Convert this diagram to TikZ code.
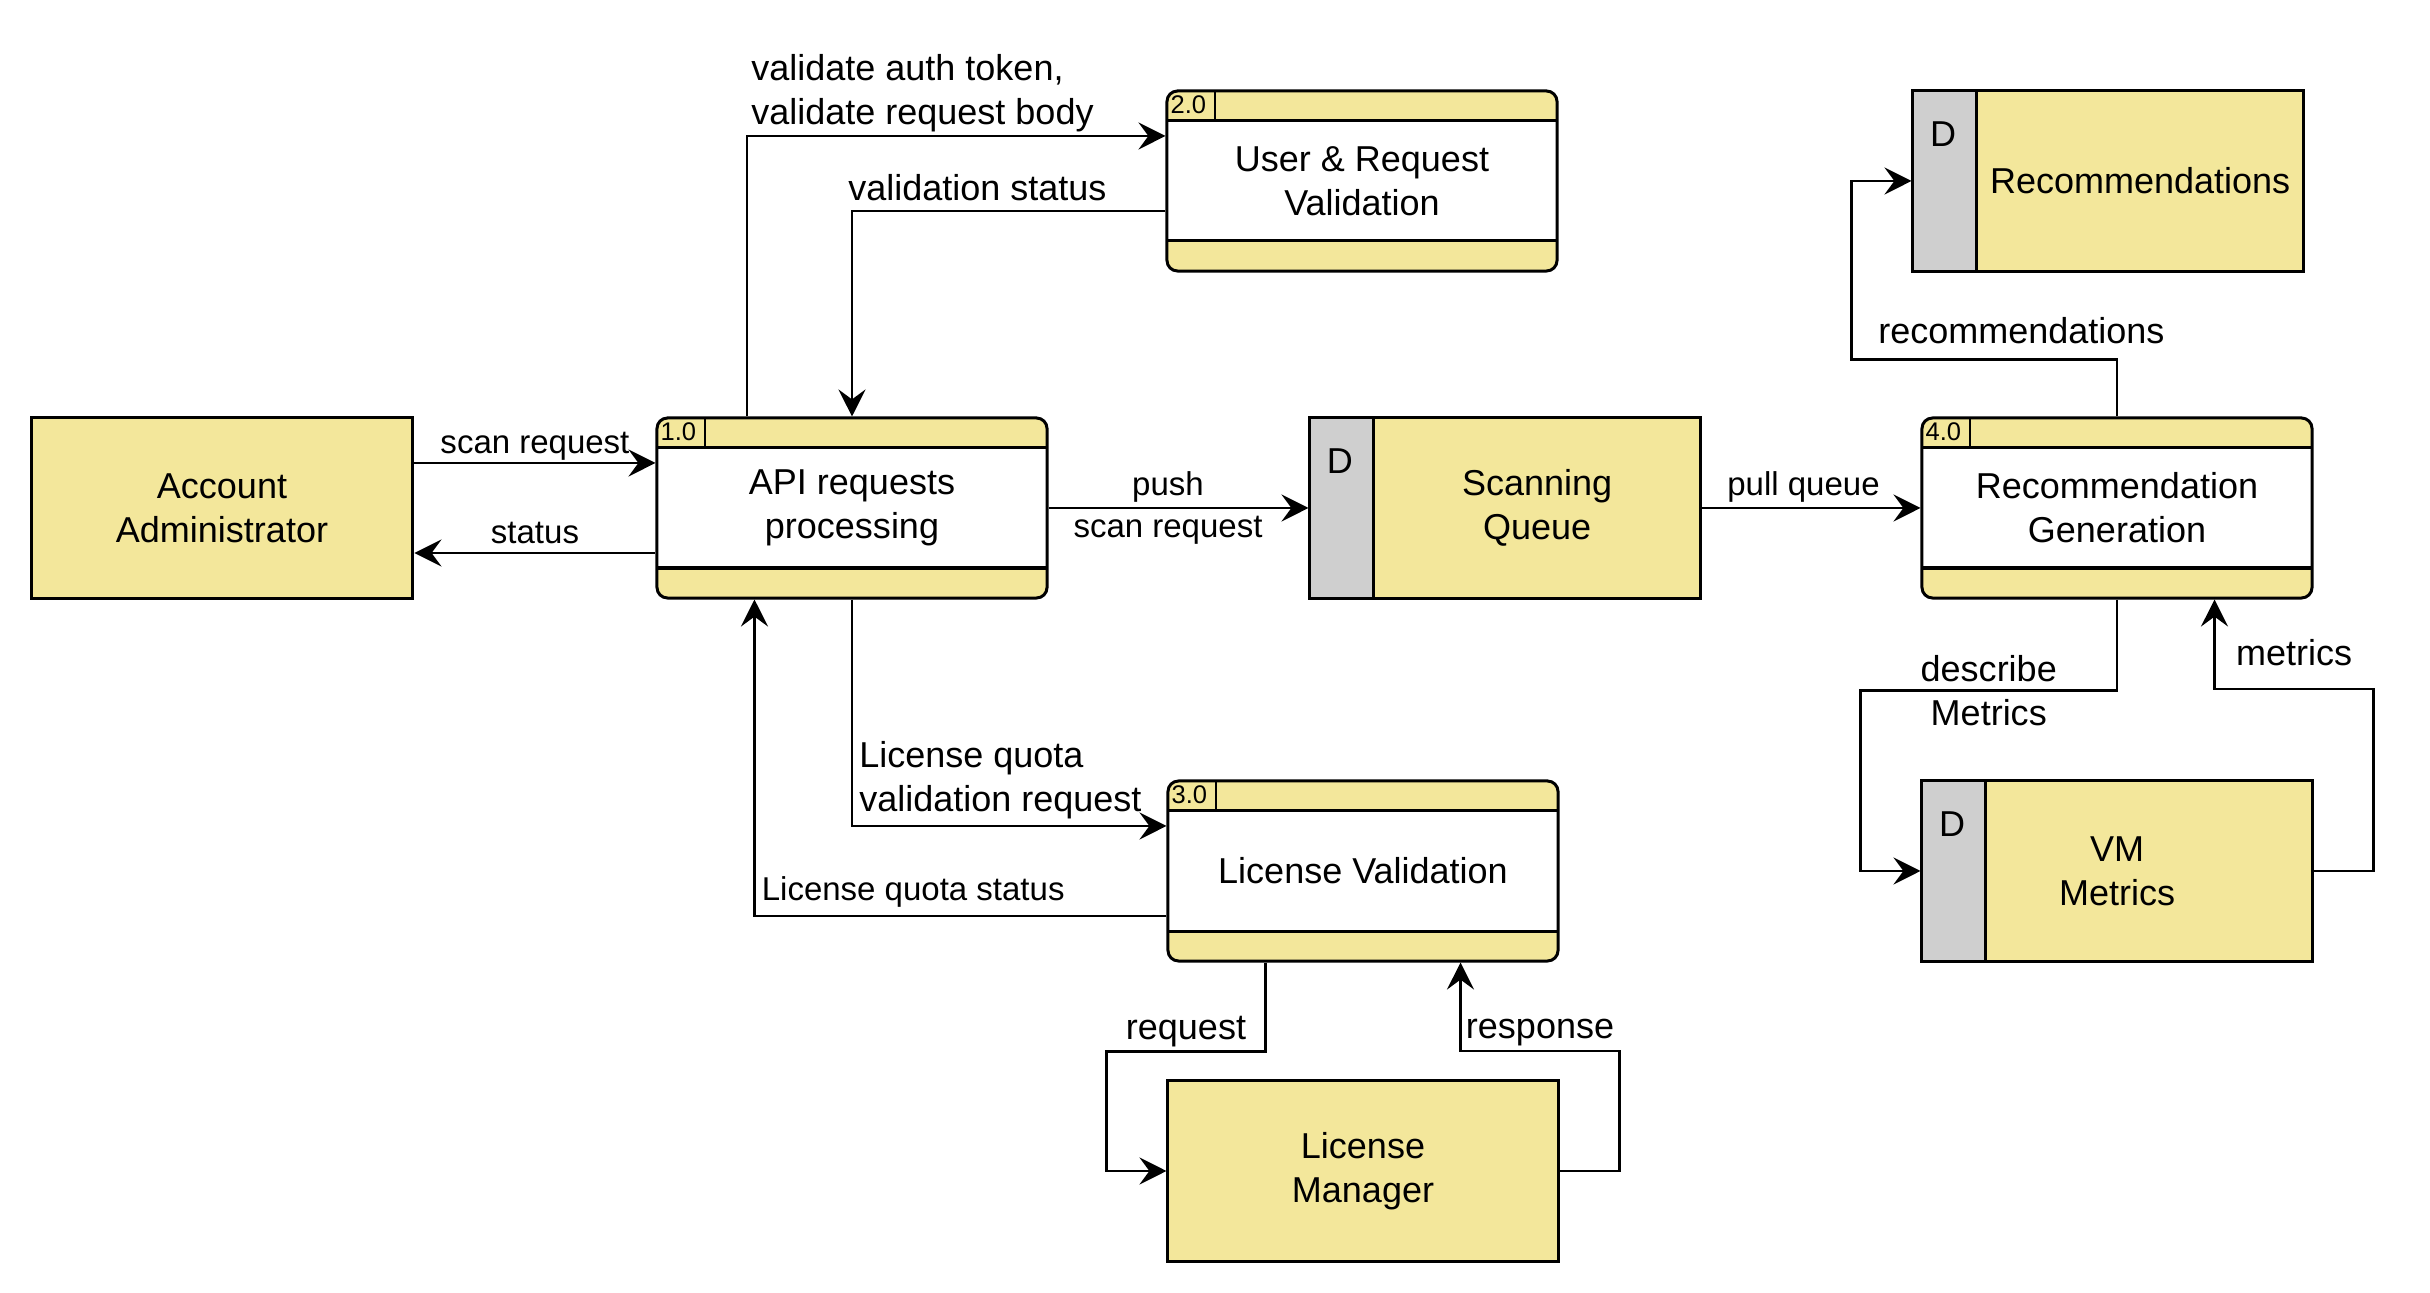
\documentclass[tikz,border=0pt]{standalone}
\usepackage{fontspec}
\setmainfont{Liberation Sans}
\usetikzlibrary{arrows.meta}
\definecolor{dfdyellow}{HTML}{F3E79B}
\definecolor{dfdgray}{HTML}{CFCFCF}

\begin{document}
\begin{tikzpicture}[x=0.3333pt, y=-0.3333pt,
	box/.style={draw, line width=1pt, fill=dfdyellow, minimum width=130pt, minimum height=60pt, inner sep=0pt, align=center, font=\fontsize{12}{14.7}\selectfont},
	proc/.style={box, rounded corners=3.5pt, path picture={
		\fill[white, sharp corners] ([yshift=-10pt]path picture bounding box.north west) rectangle ([yshift=10pt]path picture bounding box.south east);
		\draw[line width=1pt] ([yshift=-10pt]path picture bounding box.north west) -- ([yshift=-10pt]path picture bounding box.north east);
		\draw[line width=1pt] ([yshift=10pt]path picture bounding box.south west) -- ([yshift=10pt]path picture bounding box.south east);
		\draw[line width=0.6pt] ([xshift=16pt]path picture bounding box.north west) -- ([xshift=16pt, yshift=-10pt]path picture bounding box.north west);}},
	store/.style={box, path picture={
		\fill[dfdgray] (path picture bounding box.north west) rectangle ([xshift=21.3pt]path picture bounding box.south west);
		\draw[line width=1pt] ([xshift=21.3pt]path picture bounding box.north west) -- ([xshift=21.3pt]path picture bounding box.south west);}},
	txt/.style={font=\fontsize{12}{14.7}\selectfont, align=center},
	lbl/.style={font=\fontsize{12}{14.7}\selectfont, align=left},
	lblsmall/.style={font=\fontsize{11}{14.2}\selectfont, align=center},
	idtxt/.style={font=\fontsize{8.5}{10}\selectfont, anchor=west, inner sep=1.5pt},
	flow/.style={line width=0.9pt, -{Stealth[length=9pt, width=9pt, inset=3.3pt]}}
]

	\useasboundingbox (0,0) rectangle (2430,1293);

	\node[box, minimum width=127.3pt] (admin) at (222,508) {Account\\Administrator};
	\node[proc] (api) at (852,508) {API requests\\processing};
	\node[proc] (uval) at (1362,181) {User \& Request\\Validation};
	\node[proc] (lval) at (1363,871) {License Validation};
	\node[box] (lman) at (1363,1171) {License\\Manager};
	\node[store] (queue) at (1505,508) {};
	\node[proc] (recgen) at (2117,508) {Recommendation\\Generation};
	\node[store] (recs) at (2108,181) {};
	\node[store] (vm) at (2117,871) {VM\\Metrics};

	\node[idtxt] (apiid) at ([yshift=-5pt]api.north west) {1.0};
	\node[idtxt] (uvalid) at ([yshift=-5pt]uval.north west) {2.0};
	\node[idtxt] (lvalid) at ([yshift=-5pt]lval.north west) {3.0};
	\node[idtxt] (recgenid) at ([yshift=-5pt]recgen.north west) {4.0};

	\node[txt] (queued) at ([xshift=10.5pt, yshift=-15pt]queue.north west) {D};
	\node[txt] (recsd) at ([xshift=10.5pt, yshift=-15pt]recs.north west) {D};
	\node[txt] (vmd) at ([xshift=10.5pt, yshift=-15pt]vm.north west) {D};
	\node[txt] (queuetxt) at ([xshift=10.7pt]queue.center) {Scanning\\Queue};
	\node[txt] (recstxt) at ([xshift=10.7pt]recs.center) {Recommendations};

	\draw[flow] ([yshift=15pt]admin.east) -- node[lblsmall, anchor=base, yshift=3.3pt] (scanlbl) {scan request} ([yshift=15pt]api.west);
	\draw[flow] ([yshift=-15pt]api.west) -- node[lblsmall, anchor=base, yshift=3pt] (statuslbl) {status} ([yshift=-15pt]admin.east);
	\draw[flow] ([xshift=-35pt]api.north) |- node[lbl, anchor=south west, inner sep=1pt] (authlbl) {validate auth token,\\validate request body} ([yshift=15pt]uval.west);
	\draw[flow] ([yshift=-10pt]uval.west) -| node[lbl, pos=0.3, anchor=base, yshift=3.4pt] (vstatlbl) {validation status} (api.north);
	\draw[flow] (api.east) -- node[lblsmall, xshift=-3.5pt] (pushlbl) {push\\scan request} (queue.west);
	\draw[flow] (queue.east) -- node[lblsmall, anchor=base, xshift=-2.5pt, yshift=4.2pt] (pulllbl) {pull queue} (recgen.west);
	\draw[flow] (api.south) |- node[lbl, anchor=south west, inner sep=2pt] (quotalbl) {License quota\\validation request} ([yshift=15pt]lval.west);
	\draw[flow] ([yshift=-15pt]lval.west) -| node[lblsmall, anchor=base west, inner sep=1pt, xshift=1pt, yshift=5.3pt] (qstatlbl) {License quota status} ([xshift=-32.5pt]api.south);
	\draw[flow] ([xshift=-32.5pt]lval.south) -- ++(0pt,-29.7pt) -| node[lbl, pos=0.25, anchor=base, yshift=3.9pt] (reqlbl) {request} ([xshift=-20pt]lman.west) -- (lman.west);
	\draw[flow] (lman.east) -- ++(20pt,0pt) -- ++(0pt,40pt) -| node[lbl, pos=0.25, anchor=base, yshift=4.2pt] (resplbl) {response} ([xshift=32.5pt]lval.south);
	\draw[flow] (recgen.north) -- ++(0pt,19pt) -| node[lbl, pos=0.18, anchor=base, yshift=5.3pt] (reclbl) {recommendations} ([xshift=-20pt]recs.west) -- (recs.west);
	\draw[flow] (recgen.south) -- ++(0pt,-30.3pt) -| node[lbl, pos=0.25, align=center] (desclbl) {describe\\Metrics} ([xshift=-20pt]vm.west) -- (vm.west);
	\draw[flow] (vm.east) -- ++(20pt,0pt) -- ++(0pt,60.7pt) -| node[lbl, pos=0.25, anchor=base, yshift=7.8pt] (metlbl) {metrics} ([xshift=32.5pt]recgen.south);

\end{tikzpicture}
\end{document}
